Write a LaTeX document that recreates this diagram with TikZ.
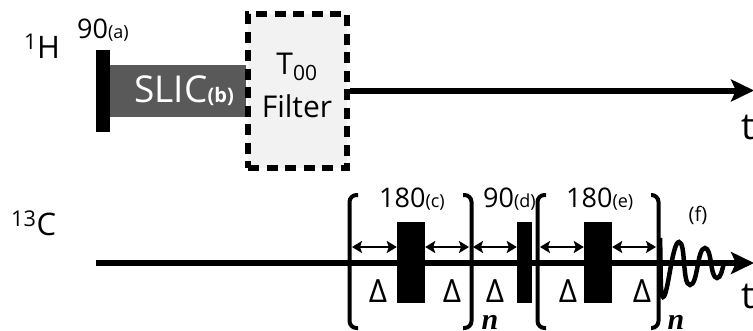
\documentclass[tikz,border=0pt]{standalone}
\usepackage{fontspec}
\setmainfont{Open Sans}
\newfontfamily\repfont{Liberation Serif}
\usepackage{xcolor}
\definecolor{slicgray}{RGB}{89,89,89}
\definecolor{filtergray}{RGB}{242,242,242}
\usetikzlibrary{arrows.meta, positioning}
\newcommand{\lab}[1]{{\fontsize{18}{18}\selectfont #1}}

\begin{document}
\begin{tikzpicture}[
  x=1pt, y=-1pt,
  pulse/.style={fill=black, draw=none, inner sep=0pt},
  txt/.style={inner sep=0pt, font=\fontsize{27}{28}\selectfont},
  big/.style={inner sep=0pt, anchor=west, font=\fontsize{31}{31}\selectfont},
  delay/.style={inner sep=0pt, font=\fontsize{32}{32}\selectfont},
  repcount/.style={inner sep=0pt, anchor=base, font=\repfont\bfseries\itshape\fontsize{30}{30}\selectfont},
  chan/.style={line width=6pt, -{Stealth[length=23pt, width=22pt, inset=5pt]}},
  span/.style={line width=2.4pt, {Stealth[length=10pt, width=12pt, inset=2pt]}-{Stealth[length=10pt, width=12pt, inset=2pt]}},
  brack/.style={line width=4pt, rounded corners=7pt},
  >={Stealth}
]
\useasboundingbox (0,0) rectangle (753,330);
% proton channel
\node[pulse, minimum width=13.5pt, minimum height=82pt] (hp) at (102.75,91) {};
\node[pulse, fill=slicgray, anchor=west, minimum width=136pt, minimum height=52pt] (slic) at (109.5,91) {};
\node[anchor=east, inner sep=0pt, text=white, font=\fontsize{37}{38}\selectfont] (sliclab) at (234,91) {SLIC{\fontsize{20}{20}\selectfont\bfseries (b)}};
\node[draw=black, fill=filtergray, line width=6pt, dash pattern=on 11pt off 7.5pt, minimum width=99pt, minimum height=154pt, inner sep=0pt] (filter) at (297.5,90.5) {};
\node[txt, font=\fontsize{30}{30}\selectfont] (tzero) at (297,67) {T$_{\mathrm{00}}$};
\node[txt, font=\fontsize{30}{30}\selectfont] (filtlab) at (297,106) {Filter};
\coordinate (hend) at (754,90.5);
\draw[chan] (filter.east) -- (hend);
\node[big] (hname) at (24,46) {$^{\mathrm{1}}$H};
\node[txt, anchor=west] (ninea) at (77,30) {90\lab{(a)}};
\node[big, font=\fontsize{37}{37}\selectfont] (ht) at (741,127) {t};
% carbon channel
\coordinate (cstart) at (96,263);
\coordinate (cend) at (754,263);
\draw[chan] (cstart) -- (cend);
\node[big] (cname) at (11,223) {$^{\mathrm{13}}$C};
\node[big, font=\fontsize{37}{37}\selectfont] (ct) at (741,296) {t};
\node[pulse, minimum width=28pt, minimum height=81pt] (pc) at (411,262.5) {};
\node[pulse, minimum width=15pt, minimum height=81pt] (pd) at (524.5,262.5) {};
\node[pulse, minimum width=28pt, minimum height=81pt] (pe) at (598,262.5) {};
\node[txt, anchor=west] (labc) at (379,199) {180\lab{(c)}};
\node[txt, anchor=west] (labd) at (483,199) {90\lab{(d)}};
\node[txt, anchor=west] (labe) at (566,199) {180\lab{(e)}};
\node[inner sep=0pt, font=\fontsize{20}{20}\selectfont] (labf) at (698,215) {(f)};
% brackets
\coordinate (b1a) at (358,195); \coordinate (b1b) at (349.5,195); \coordinate (b1c) at (349.5,328); \coordinate (b1d) at (358,328);
\coordinate (b2a) at (463,195); \coordinate (b2b) at (471.5,195); \coordinate (b2c) at (471.5,328); \coordinate (b2d) at (463,328);
\coordinate (b3a) at (546,195); \coordinate (b3b) at (537.5,195); \coordinate (b3c) at (537.5,328); \coordinate (b3d) at (546,328);
\coordinate (b4a) at (651,195); \coordinate (b4b) at (658.5,195); \coordinate (b4c) at (658.5,328); \coordinate (b4d) at (651,328);
\draw[brack] (b1a) -- (b1b) -- (b1c) -- (b1d);
\draw[brack] (b2a) -- (b2b) -- (b2c) -- (b2d);
\draw[brack] (b3a) -- (b3b) -- (b3c) -- (b3d);
\draw[brack] (b4a) -- (b4b) -- (b4c) -- (b4d);
% delays
\coordinate (d1) at (352,247); \coordinate (d2) at (469,247); \coordinate (d3) at (473,247); \coordinate (d4) at (540,247); \coordinate (d5) at (656,247);
\draw[span] (d1) -- (pc.west |- d1);
\draw[span] (pc.east |- d1) -- (d2);
\draw[span] (d3) -- (pd.west |- d3);
\draw[span] (d4) -- (pe.west |- d4);
\draw[span] (pe.east |- d4) -- (d5);
\node[delay] (del1) at (378,291) {Δ};
\node[delay] (del2) at (452,291) {Δ};
\node[delay] (del3) at (495,291) {Δ};
\node[delay] (del4) at (568,291) {Δ};
\node[delay] (del5) at (642,291) {Δ};
\node[repcount] (nleft) at (490,329) {n};
\node[repcount] (nright) at (676,329) {n};
% decay
\coordinate (f0) at (660,238);
\coordinate (f1) at (663,297);
\coordinate (f2) at (679,242);
\coordinate (f3) at (690,285);
\coordinate (f4) at (705,248);
\coordinate (f5) at (717,278);
\coordinate (f6) at (724,263);
\draw[line width=4.5pt] (f0) .. controls (661,270) and (660,297) .. (f1)
  .. controls (668,297) and (672,242) .. (f2)
  .. controls (686,242) and (682,285) .. (f3)
  .. controls (698,285) and (697,248) .. (f4)
  .. controls (712,248) and (710,278) .. (f5)
  .. controls (721,278) and (722,270) .. (f6);
\end{tikzpicture}
\end{document}
